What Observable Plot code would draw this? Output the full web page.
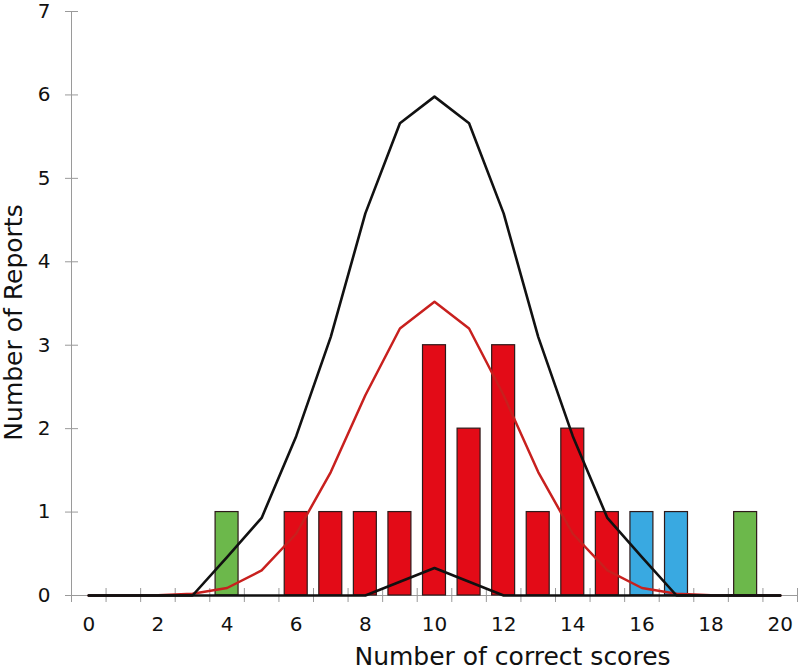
<!DOCTYPE html>
<html><head><meta charset="utf-8">
<script src="https://cdn.jsdelivr.net/npm/d3@7"></script>
<script src="https://cdn.jsdelivr.net/npm/@observablehq/plot@0.6"></script>
<style>body{margin:0;background:#fff}</style>
</head><body><div id="chart"></div>
<script>
// Bars: observed number of reports per score
const scores  = [4, 6, 7, 8, 9, 10, 11, 12, 13, 14, 15, 16, 17, 19];
const reports = [1, 1, 1, 1, 1, 3, 2, 3, 1, 2, 1, 1, 1, 1];
const groups  = ["edge","core","core","core","core","core","core","core","core","core","core","high","high","edge"];

// Curves at each score 0..20
const curveX        = [0,1,2,3,4,5,6,7,8,9,10,11,12,13,14,15,16,17,18,19,20];
const upperCurve    = [0,0,0,0,0.46,0.93,1.91,3.1,4.58,5.66,5.98,5.66,4.58,3.1,1.91,0.93,0.46,0,0,0,0];
const expectedCurve = [0,0,0.004,0.02,0.09,0.3,0.74,1.48,2.4,3.2,3.52,3.2,2.4,1.48,0.74,0.3,0.09,0.02,0.004,0,0];
const lowerCurve    = [0,0,0,0,0,0,0,0,0,0.165,0.33,0.165,0,0,0,0,0,0,0,0,0];

// Axis ticks
const xTickMarks  = [-0.5,0.5,1.5,2.5,3.5,4.5,5.5,6.5,7.5,8.5,9.5,10.5,11.5,12.5,13.5,14.5,15.5,16.5,17.5,18.5,19.5,20.5];
const xTickLabels = [0,2,4,6,8,10,12,14,16,18,20];
const yTicks      = [0,1,2,3,4,5,6,7];
const xTitle = "Number of correct scores";
const yTitle = "Number of Reports";

const bars = scores.map((s, i) => ({score: s, reports: reports[i], group: groups[i]}));

const font = "'DejaVu Sans', sans-serif";
const plot = Plot.plot({
  width: 800, height: 670,
  marginLeft: 71, marginRight: 3, marginTop: 11, marginBottom: 75,
  style: {fontFamily: font, background: "#fff", color: "#111"},
  x: {domain: [-0.5, 20.5]},
  y: {domain: [0, 7]},
  color: {domain: ["core", "high", "edge"], range: ["#e30b17", "#39a9e1", "#6cb84b"]},
  marks: [
    Plot.ruleX([-0.5], {stroke: "#9a9a9a"}),
    Plot.ruleY([0], {stroke: "#9a9a9a"}),
    Plot.axisX(xTickMarks, {tickSize: 14, dy: -7, tickFormat: () => "", stroke: "#9a9a9a", label: null}),
    Plot.axisX(xTickLabels, {tickSize: 0, tickPadding: 21, fontSize: 20, fill: "#111", tickFormat: "d", label: null}),
    Plot.axisY(yTicks, {tickSize: 13, dx: 7, tickFormat: () => "", stroke: "#9a9a9a", label: null}),
    Plot.axisY(yTicks, {tickSize: 0, tickPadding: 21, fontSize: 20, fill: "#111", tickFormat: "d", label: null}),
    Plot.rectY(bars, {
      x1: d => d.score - 0.5, x2: d => d.score + 0.5, y: "reports",
      fill: "group", stroke: "#2e1a1a", strokeWidth: 1.2, insetLeft: 5.8, insetRight: 5.8
    }),
    Plot.lineY(expectedCurve, {x: curveX, stroke: "#c8201e", strokeWidth: 2.5}),
    Plot.lineY(lowerCurve, {x: curveX, stroke: "#111", strokeWidth: 2.6}),
    Plot.lineY(upperCurve, {x: curveX, stroke: "#111", strokeWidth: 2.6}),
    Plot.text([xTitle], {frameAnchor: "bottom", textAnchor: "middle", dx: 78, dy: 61, fontSize: 25, fill: "#111", lineAnchor: "middle"}),
    Plot.text([yTitle], {frameAnchor: "left", textAnchor: "middle", dx: -58, dy: 19, rotate: -90, fontSize: 25, fill: "#111", lineAnchor: "middle"})
  ]
});
document.getElementById("chart").appendChild(plot);
</script>
</body></html>
